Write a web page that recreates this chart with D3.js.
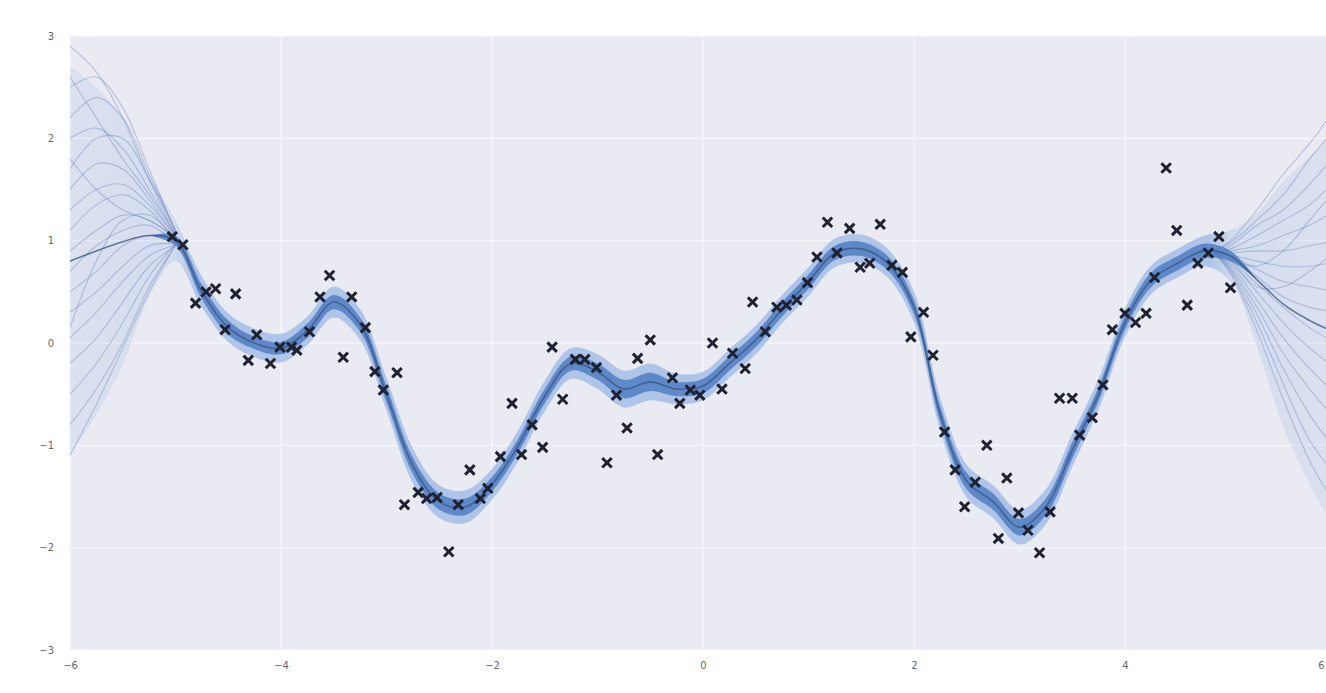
<!DOCTYPE html>
<html>
<head>
<meta charset="utf-8">
<script src="https://cdn.jsdelivr.net/npm/d3@7"></script>
<style>
  body { margin: 0; background: #fff; }
  svg { display: block; }
  .tick text { font-family: "DejaVu Sans", sans-serif; font-size: 10px; fill: #666; }
</style>
</head>
<body>
<div id="chart"></div>
<script>
// observed points (x, y)
var obsX = [-5.03, -4.93, -4.81, -4.71, -4.62, -4.43, -4.53, -4.31, -4.23, -4.10, -4.01, -3.90, -3.85, -3.73, -3.63, -3.54, -3.41, -3.33, -3.20, -3.11, -3.03, -2.90,
  -2.83, -2.70, -2.62, -2.52, -2.41, -2.32, -2.21, -2.11, -2.04, -1.92, -1.81, -1.72, -1.62, -1.52, -1.43, -1.33, -1.21, -1.12, -1.01, -0.91, -0.82, -0.72,
  -0.62, -0.50, -0.43, -0.29, -0.22, -0.12, -0.03, 0.09, 0.18, 0.28, 0.40, 0.47, 0.59, 0.70, 0.79, 0.89, 0.99, 1.08, 1.18, 1.27, 1.39, 1.49, 1.58, 1.68,
  1.79, 1.89, 1.97, 2.09, 2.18, 2.29, 2.39, 2.48, 2.58, 2.69, 2.80, 2.88, 2.99, 3.08, 3.19, 3.29, 3.38, 3.50, 3.57, 3.69, 3.79, 3.88, 4.00, 4.10, 4.20,
  4.28, 4.39, 4.49, 4.59, 4.69, 4.79, 4.89, 5.00];
var obsY = [1.04, 0.96, 0.39, 0.50, 0.53, 0.48, 0.13, -0.17, 0.08, -0.20, -0.04, -0.04, -0.07, 0.11, 0.45, 0.66, -0.14, 0.45, 0.15, -0.28, -0.46, -0.29,
  -1.58, -1.46, -1.52, -1.51, -2.04, -1.58, -1.24, -1.52, -1.42, -1.11, -0.59, -1.09, -0.80, -1.02, -0.04, -0.55, -0.16, -0.16, -0.24, -1.17, -0.51, -0.83,
  -0.15, 0.03, -1.09, -0.34, -0.59, -0.46, -0.51, 0.00, -0.45, -0.10, -0.25, 0.40, 0.11, 0.35, 0.37, 0.42, 0.59, 0.84, 1.18, 0.88, 1.12, 0.74, 0.78, 1.16,
  0.76, 0.69, 0.06, 0.30, -0.12, -0.87, -1.24, -1.60, -1.36, -1.00, -1.91, -1.32, -1.66, -1.83, -2.05, -1.65, -0.54, -0.54, -0.90, -0.73, -0.41, 0.13, 0.29, 0.20, 0.29,
  0.64, 1.71, 1.10, 0.37, 0.78, 0.88, 1.04, 0.54];

// posterior mean and spread, read on a 0.25 grid
var gridX = [-6, -5.75, -5.5, -5.25, -5, -4.75, -4.5, -4.25, -4, -3.75, -3.5, -3.25, -3, -2.75, -2.5, -2.25, -2, -1.75, -1.5, -1.25, -1, -0.75, -0.5, -0.25,
  0, 0.25, 0.5, 0.75, 1, 1.25, 1.5, 1.75, 2, 2.25, 2.5, 2.75, 3, 3.25, 3.5, 3.75, 4, 4.25, 4.5, 4.75, 5, 5.25, 5.5, 5.75, 6];
var meanY = [0.80, 0.90, 0.99, 1.05, 1.00, 0.50, 0.15, 0.00, -0.05, 0.12, 0.40, 0.18, -0.50, -1.20, -1.55, -1.60, -1.38, -1.00, -0.52, -0.20, -0.28, -0.45, -0.38, -0.45,
  -0.42, -0.20, 0.03, 0.33, 0.60, 0.88, 0.92, 0.78, 0.35, -0.70, -1.35, -1.55, -1.80, -1.60, -1.05, -0.50, 0.20, 0.62, 0.78, 0.90, 0.85, 0.62, 0.38, 0.22, 0.10];
var haloW = [1.90, 1.60, 1.20, 0.60, 0.20, 0.15, 0.14, 0.14, 0.14, 0.14, 0.15, 0.15, 0.16, 0.17, 0.16, 0.16, 0.15, 0.15, 0.15, 0.15, 0.17, 0.18, 0.18, 0.15,
  0.14, 0.14, 0.14, 0.14, 0.14, 0.14, 0.14, 0.14, 0.15, 0.16, 0.16, 0.16, 0.17, 0.17, 0.16, 0.15, 0.14, 0.14, 0.14, 0.15, 0.25, 0.65, 1.20, 1.60, 1.95];
var coreW = [null, null, null, 0.00, 0.05, 0.07, 0.07, 0.06, 0.06, 0.07, 0.07, 0.07, 0.08, 0.08, 0.08, 0.08, 0.07, 0.07, 0.07, 0.07, 0.08, 0.09, 0.09, 0.07,
  0.07, 0.07, 0.07, 0.07, 0.07, 0.07, 0.07, 0.07, 0.07, 0.08, 0.08, 0.08, 0.08, 0.08, 0.08, 0.07, 0.07, 0.07, 0.07, 0.07, 0.05, 0.00, null, null, null];

// posterior samples away from the data
var leftFanX = [-6, -5.75, -5.5, -5.25, -5];
var leftFan = [
  [2.90, 2.65, 2.20, 1.60, 1.05], [2.60, 2.20, 1.80, 1.45, 1.05], [2.50, 2.60, 2.30, 1.70, 1.08], [2.20, 2.40, 2.20, 1.65, 1.10],
  [2.00, 2.10, 1.90, 1.50, 1.06], [1.80, 1.50, 1.30, 1.20, 1.03], [1.70, 2.00, 2.00, 1.60, 1.10], [1.50, 1.75, 1.70, 1.40, 1.02],
  [1.30, 1.50, 1.55, 1.35, 1.04], [1.10, 1.35, 1.45, 1.30, 1.00], [0.90, 1.10, 1.25, 1.20, 1.02], [0.70, 0.95, 1.10, 1.15, 0.98],
  [0.50, 0.70, 0.95, 1.05, 1.00], [0.30, 0.50, 0.75, 0.95, 0.97], [0.15, 0.80, 1.20, 1.25, 1.00], [0.05, 0.30, 0.60, 0.85, 0.96],
  [-0.20, 0.05, 0.40, 0.75, 0.95], [-0.50, -0.20, 0.20, 0.65, 0.97], [-0.80, -0.45, 0.00, 0.55, 0.95], [-1.10, -0.60, -0.05, 0.50, 0.96]
];
var rightFanX = [4.85, 5, 5.25, 5.5, 5.75, 6];
var rightFan = [
  [0.90, 1.00, 1.30, 1.65, 1.95, 2.30], [0.90, 0.98, 1.20, 1.45, 1.80, 2.10], [0.88, 0.95, 1.15, 1.30, 1.55, 1.85], [0.90, 0.92, 1.05, 1.20, 1.35, 1.60],
  [0.88, 0.90, 0.95, 1.05, 1.15, 1.30], [0.87, 0.88, 0.90, 0.90, 0.95, 1.00], [0.88, 0.86, 0.80, 0.75, 0.75, 0.80], [0.87, 0.85, 0.72, 0.60, 0.55, 0.50],
  [0.88, 0.83, 0.65, 0.45, 0.35, 0.30], [0.87, 0.80, 0.58, 0.35, 0.15, 0.00], [0.88, 0.78, 0.50, 0.20, -0.05, -0.25], [0.87, 0.76, 0.42, 0.05, -0.25, -0.50],
  [0.88, 0.74, 0.35, -0.10, -0.45, -0.75], [0.87, 0.72, 0.28, -0.25, -0.70, -1.05], [0.88, 0.70, 0.20, -0.40, -0.95, -1.30], [0.87, 0.68, 0.12, -0.55, -1.15, -1.60],
  [0.88, 0.82, 0.75, 0.90, 1.20, 1.50], [0.87, 0.80, 0.55, 0.55, 0.70, 0.90]
];

var xTicks = [-6, -4, -2, 0, 2, 4, 6];
var yTicks = [-3, -2, -1, 0, 1, 2, 3];

var W = 1326, H = 693;
var x = d3.scaleLinear().domain([-6, 6]).range([70, 1336]);
var y = d3.scaleLinear().domain([-3, 3]).range([650, 36]);

var svg = d3.select("#chart").append("svg").attr("width", W).attr("height", H);
var defs = svg.append("defs");

defs.append("clipPath").attr("id", "plotclip")
  .append("rect").attr("x", 70).attr("y", 36).attr("width", 1266).attr("height", 614);

var halo = defs.append("linearGradient").attr("id", "halograd")
  .attr("x1", "0%").attr("x2", "100%").attr("y1", "0%").attr("y2", "0%");
halo.append("stop").attr("offset", "0%").attr("stop-color", "#a9c0e6").attr("stop-opacity", 0.22);
halo.append("stop").attr("offset", "8%").attr("stop-color", "#a9c0e6").attr("stop-opacity", 0.35);
halo.append("stop").attr("offset", "10%").attr("stop-color", "#9fbbe6").attr("stop-opacity", 0.8);
halo.append("stop").attr("offset", "90%").attr("stop-color", "#9fbbe6").attr("stop-opacity", 0.8);
halo.append("stop").attr("offset", "92%").attr("stop-color", "#a9c0e6").attr("stop-opacity", 0.35);
halo.append("stop").attr("offset", "100%").attr("stop-color", "#a9c0e6").attr("stop-opacity", 0.22);

svg.append("rect").attr("x", 70).attr("y", 36).attr("width", 1266).attr("height", 614).attr("fill", "#eaeaf2");

// grid
svg.append("g").selectAll("line").data(xTicks).join("line")
  .attr("x1", d => x(d)).attr("x2", d => x(d)).attr("y1", 36).attr("y2", 650)
  .attr("stroke", "#f7f7fb").attr("stroke-width", 1.2);
svg.append("g").selectAll("line").data(yTicks).join("line")
  .attr("x1", 70).attr("x2", 1336).attr("y1", d => y(d)).attr("y2", d => y(d))
  .attr("stroke", "#f7f7fb").attr("stroke-width", 1.2);

var plot = svg.append("g").attr("clip-path", "url(#plotclip)");
var idx = d3.range(gridX.length);

// outer halo
plot.append("path")
  .datum(idx)
  .attr("fill", "url(#halograd)")
  .attr("d", d3.area()
    .x(i => x(gridX[i]))
    .y0(i => y(meanY[i] - haloW[i]))
    .y1(i => y(meanY[i] + haloW[i]))
    .curve(d3.curveCatmullRom));

// fan samples
var fanLine = function(xs) {
  return d3.line().x((d, i) => x(xs[i])).y(d => y(d)).curve(d3.curveCatmullRom);
};
plot.append("g").selectAll("path").data(leftFan).join("path")
  .attr("fill", "none").attr("stroke", "#5877b5").attr("stroke-opacity", 0.36).attr("stroke-width", 1.1)
  .attr("d", fanLine(leftFanX));
plot.append("g").selectAll("path").data(rightFan).join("path")
  .attr("fill", "none").attr("stroke", "#5877b5").attr("stroke-opacity", 0.36).attr("stroke-width", 1.1)
  .attr("d", fanLine(rightFanX));

// dense core of samples
plot.append("path")
  .datum(idx)
  .attr("fill", "#5582c4").attr("fill-opacity", 0.9)
  .attr("d", d3.area()
    .defined(i => coreW[i] !== null)
    .x(i => x(gridX[i]))
    .y0(i => y(meanY[i] - coreW[i]))
    .y1(i => y(meanY[i] + coreW[i]))
    .curve(d3.curveCatmullRom));

// mean
plot.append("path")
  .datum(idx)
  .attr("fill", "none").attr("stroke", "#3a5482").attr("stroke-opacity", 0.75).attr("stroke-width", 1.6)
  .attr("d", d3.line().x(i => x(gridX[i])).y(i => y(meanY[i])).curve(d3.curveCatmullRom));

// observations
var xsym = d3.symbol().type(d3.symbolX).size(60);
plot.append("g").selectAll("path").data(obsX).join("path")
  .attr("transform", (d, i) => "translate(" + x(d) + "," + y(obsY[i]) + ")")
  .attr("d", xsym)
  .attr("fill", "none").attr("stroke", "#1e2130").attr("stroke-width", 3);

// axes, labels only
var fmt = d3.format("d");
svg.append("g").attr("transform", "translate(0,650)")
  .call(d3.axisBottom(x).tickValues(xTicks).tickFormat(fmt).tickSize(0).tickPadding(12))
  .call(g => g.select(".domain").remove())
  .call(g => g.selectAll(".tick text").filter(d => d === 6).attr("text-anchor", "end").attr("dx", -12));
svg.append("g").attr("transform", "translate(70,0)")
  .call(d3.axisLeft(y).tickValues(yTicks).tickFormat(fmt).tickSize(0).tickPadding(16))
  .call(g => g.select(".domain").remove());
</script>
</body>
</html>
